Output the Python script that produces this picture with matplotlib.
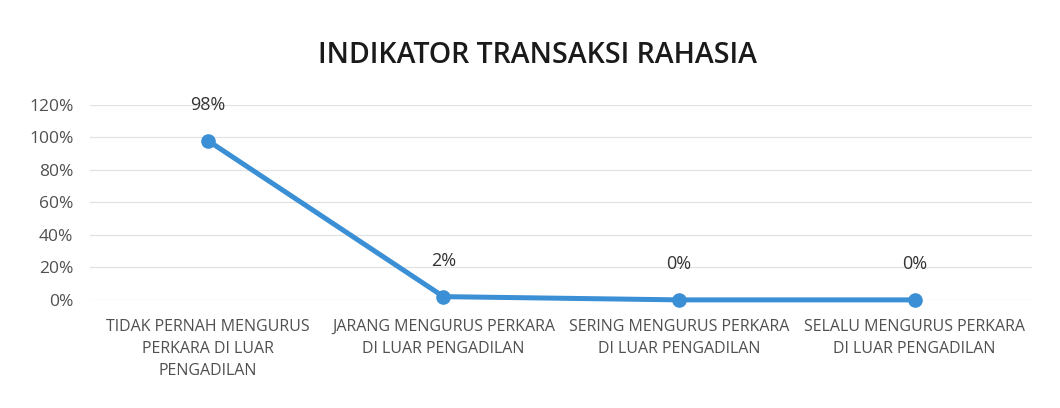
import matplotlib
matplotlib.use('Agg')
import matplotlib.pyplot as plt
from matplotlib.ticker import PercentFormatter

# data
categories = ['TIDAK PERNAH MENGURUS\nPERKARA DI LUAR\nPENGADILAN',
              'JARANG MENGURUS PERKARA\nDI LUAR PENGADILAN',
              'SERING MENGURUS PERKARA\nDI LUAR PENGADILAN',
              'SELALU MENGURUS PERKARA\nDI LUAR PENGADILAN']
values = [0.98, 0.02, 0.0, 0.0]
labels = ['98%', '2%', '0%', '0%']

plt.rcParams['font.family'] = ['Open Sans', 'DejaVu Sans']

fig = plt.figure(figsize=(10.6, 4.08), dpi=100)
ax = fig.add_axes([0.085, 0.265, 0.889, 0.478])

x = list(range(len(values)))
ax.plot(x, values, color='#3b8fd4', lw=3.6, marker='o', ms=9.5, zorder=3, clip_on=False)

for xi, v, t in zip(x, values, labels):
    ax.annotate(t, (xi, v), xytext=(0, 19), textcoords='offset points',
                ha='center', va='bottom', fontsize=13, color='#333333')

ax.set_xlim(-0.5, 3.5)
ax.set_ylim(0, 1.2)
ax.set_yticks([0, 0.2, 0.4, 0.6, 0.8, 1.0, 1.2])
ax.yaxis.set_major_formatter(PercentFormatter(1.0, decimals=0))
ax.set_xticks(x)
ax.set_xticklabels(categories, fontsize=11.5, color='#505050', linespacing=1.5)
ax.tick_params(axis='y', labelsize=12.5, labelcolor='#505050', length=0, pad=12)
ax.tick_params(axis='x', length=0, pad=14)
ax.grid(axis='y', color='#e2e2e2', lw=0.9)
ax.set_axisbelow(True)
for s in ax.spines.values():
    s.set_visible(False)

fig.text(0.507, 0.865, 'INDIKATOR TRANSAKSI RAHASIA', ha='center', va='center',
         fontsize=20.5, color='#1a1a1a', weight='semibold')

fig.savefig('out.png', dpi=100)
